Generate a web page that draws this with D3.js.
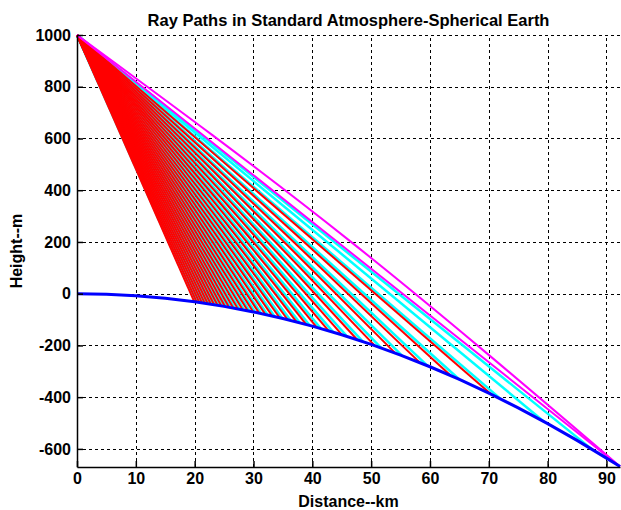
<!DOCTYPE html>
<html>
<head>
<meta charset="utf-8">
<script src="https://cdn.jsdelivr.net/npm/d3@7"></script>
<style>
  body { margin: 0; background: #fff; }
  text { font-family: "Liberation Sans", Arial, sans-serif; font-weight: bold; }
</style>
</head>
<body>
<div id="chartContainer"></div>
<script>
// ray paths chart
const xTicks = [0, 10, 20, 30, 40, 50, 60, 70, 80, 90];
const yTicks = [-600, -400, -200, 0, 200, 400, 600, 800, 1000];

// earth surface (distance km, height m)
const earthKm = [0, 5, 10, 15, 20, 25, 30, 35, 40, 45, 50, 55, 60, 65, 70, 75, 80, 85, 90, 92.3];
const earthM = [0, -2.0, -7.8, -17.7, -31.4, -49.1, -70.6, -96.1, -125.6, -158.9, -196.2, -237.4, -282.5, -331.6, -384.6, -441.4, -502.3, -567.0, -635.7, -668.0];

// red rays end points
const redEndKm = [19.93, 20.35, 20.79, 21.25, 21.73, 22.23, 22.76, 23.31, 23.89, 24.50, 25.15, 25.83, 26.56, 27.33, 28.15, 29.03, 29.96, 30.96, 32.03, 33.19, 34.45, 35.82, 37.31, 38.95, 40.76, 42.78, 45.06, 47.64, 50.61, 54.10, 58.29, 63.51, 70.39];
const redEndM = [-31.0, -32.4, -33.9, -35.5, -37.2, -38.8, -40.8, -42.7, -44.7, -46.9, -49.5, -52.1, -55.2, -58.5, -62.2, -66.3, -70.5, -75.2, -80.4, -86.3, -93.1, -100.7, -109.2, -119.0, -130.3, -143.5, -159.4, -178.1, -201.0, -229.7, -266.6, -316.6, -388.8];

// cyan rays end points
const cyanEndKm = [20.1, 20.5, 20.95, 21.42, 21.9, 22.4, 22.95, 23.5, 24.1, 24.72, 25.38, 26.07, 26.82, 27.6, 28.45, 29.35, 30.3, 31.32, 32.42, 33.62, 34.92, 36.33, 37.87, 39.57, 41.45, 43.55, 45.93, 48.6, 51.7, 55.3, 59.6, 65.0, 72.0, 79.4, 87.5];
const cyanEndM = [-31.7, -33.0, -34.4, -36.0, -37.6, -39.4, -41.3, -43.3, -45.6, -48.0, -50.5, -53.3, -56.5, -59.8, -63.5, -67.6, -72.1, -77.0, -82.5, -88.7, -95.7, -103.6, -112.5, -122.9, -134.8, -148.8, -165.6, -185.4, -209.8, -240.0, -278.8, -331.6, -406.8, -494.8, -600.9];

// limiting rays (magenta): end point and height at half distance
const magentaEndKm = [92.3, 92.3];
const magentaEndM = [-668, -668];
const magentaMidM = [208, 166];

const startKm = 0, startM = 1000;

(function() {
    const fullWidth = 621;
    const fullHeight = 510;
    const margin = {top: 35, right: 1, bottom: 43, left: 77};

    const svg = d3.create("svg")
        .attr("width", fullWidth)
        .attr("height", fullHeight)
        .attr("viewBox", [0, 0, fullWidth, fullHeight]);

    svg.append("rect").attr("width", fullWidth).attr("height", fullHeight).attr("fill", "#fff");

    const x = d3.scaleLinear().domain([0, 92.3]).range([margin.left, fullWidth - margin.right]);
    const y = d3.scaleLinear().domain([-670, 1000]).range([fullHeight - margin.bottom, margin.top]);

    // grid
    const grid = svg.append("g")
        .attr("stroke", "#000")
        .attr("stroke-width", 1)
        .attr("stroke-dasharray", "3,3")
        .attr("shape-rendering", "crispEdges");
    grid.selectAll(".vg").data(xTicks.slice(1)).join("line")
        .attr("x1", d => Math.round(x(d)) + 0.5).attr("x2", d => Math.round(x(d)) + 0.5)
        .attr("y1", y(-670)).attr("y2", y(1000));
    grid.selectAll(".hg").data(yTicks).join("line")
        .attr("y1", d => Math.round(y(d)) + 0.5).attr("y2", d => Math.round(y(d)) + 0.5)
        .attr("x1", x(0)).attr("x2", x(92.3));

    const line = d3.line().x(d => x(d[0])).y(d => y(d[1]));
    const curved = d3.line().x(d => x(d[0])).y(d => y(d[1])).curve(d3.curveNatural);

    // cyan rays under the red ones
    svg.append("g").selectAll("path")
        .data(cyanEndKm.map((k, i) => [[startKm, startM], [k, cyanEndM[i]]]))
        .join("path")
        .attr("d", line)
        .attr("fill", "none")
        .attr("stroke", "#00ffff")
        .attr("stroke-width", 2.5);

    svg.append("g").selectAll("path")
        .data(redEndKm.map((k, i) => [[startKm, startM], [k, redEndM[i]]]))
        .join("path")
        .attr("d", line)
        .attr("fill", "none")
        .attr("stroke", "#ff0000")
        .attr("stroke-width", 2);

    // magenta
    svg.append("g").selectAll("path")
        .data(magentaEndKm.map((k, i) => [[startKm, startM], [k / 2, magentaMidM[i]], [k, magentaEndM[i]]]))
        .join("path")
        .attr("d", curved)
        .attr("fill", "none")
        .attr("stroke", "#ff00ff")
        .attr("stroke-width", 2);

    // earth surface
    svg.append("path")
        .datum(earthKm.map((k, i) => [k, earthM[i]]))
        .attr("d", line)
        .attr("fill", "none")
        .attr("stroke", "#0000ff")
        .attr("stroke-width", 3);

    // axes
    const xAxis = svg.append("g")
        .attr("transform", `translate(0, ${y(-670)})`)
        .call(d3.axisBottom(x).tickValues(xTicks).tickFormat(d => String(d)).tickSize(-6).tickSizeOuter(0).tickPadding(6));
    const yAxis = svg.append("g")
        .attr("transform", `translate(${x(0)}, 0)`)
        .call(d3.axisLeft(y).tickValues(yTicks).tickFormat(d => String(d)).tickSize(-6).tickSizeOuter(0).tickPadding(6));
    [xAxis, yAxis].forEach(a => {
        a.selectAll("path, line").attr("stroke", "#000").attr("stroke-width", 1.5);
        a.selectAll("text")
            .attr("fill", "#000")
            .style("font-family", '"Liberation Sans", Arial, sans-serif')
            .style("font-weight", "bold")
            .style("font-size", "16px");
    });

    // title
    svg.append("text")
        .attr("x", (x(0) + x(92.3)) / 2)
        .attr("y", 26)
        .attr("text-anchor", "middle")
        .style("font-size", "16.5px")
        .text("Ray Paths in Standard Atmosphere-Spherical Earth");

    // x label
    svg.append("text")
        .attr("x", (x(0) + x(92.3)) / 2)
        .attr("y", 507)
        .attr("text-anchor", "middle")
        .style("font-size", "16px")
        .text("Distance--km");

    // y label
    svg.append("text")
        .attr("transform", `translate(22, ${(y(-670) + y(1000)) / 2}) rotate(-90)`)
        .attr("text-anchor", "middle")
        .style("font-size", "16px")
        .text("Height--m");

    document.getElementById("chartContainer").append(svg.node());
})();
</script>
</body>
</html>
